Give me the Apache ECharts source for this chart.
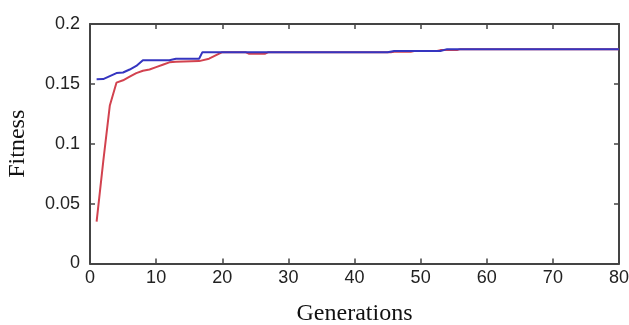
<!DOCTYPE html>
<html><head><meta charset="utf-8">
<script src="https://cdn.jsdelivr.net/npm/echarts@6/dist/echarts.min.js"></script>
<style>html,body{margin:0;padding:0;background:#fff}#c{width:629px;height:325px}</style>
</head><body><div id="c"></div>
<script>
// Red series (generation, fitness)
const redGen = [1, 2, 3, 4, 5, 6, 7, 8, 9, 10, 11, 12, 13, 16.5, 18, 20, 23.5, 24, 26.5, 27, 45.5, 46, 48.5, 49, 52.5, 53, 55.5, 56, 80];
const redFit = [0.035, 0.085, 0.132, 0.151, 0.153, 0.156, 0.159, 0.161, 0.162, 0.164, 0.166, 0.168, 0.1685, 0.169, 0.171, 0.1765, 0.1765, 0.1752, 0.1752, 0.1765, 0.1765, 0.1768, 0.1768, 0.1775, 0.1775, 0.1782, 0.1782, 0.179, 0.179];
// Blue series (generation, fitness)
const blueGen = [1, 2, 3, 4, 5, 6, 7, 8, 12, 13, 16.5, 17, 45, 46, 53, 54, 80];
const blueFit = [0.1538, 0.154, 0.1565, 0.159, 0.1595, 0.162, 0.165, 0.1698, 0.1698, 0.171, 0.171, 0.1765, 0.1765, 0.1775, 0.1775, 0.179, 0.179];
const xTicks = ['0','10','20','30','40','50','60','70','80'];
const yTicks = ['0','0.05','0.1','0.15','0.2'];
const xTitle = 'Generations';
const yTitle = 'Fitness';

const pair = (xs, ys) => xs.map((x, i) => [x, ys[i]]);
const tickFont = {fontFamily: "'Liberation Sans', Arial, sans-serif", fontSize: 18, color: '#222'};
const frame = {show: true, onZero: false, lineStyle: {color: '#444', width: 2}};
const ticksIn = {show: true, inside: true, length: 5, lineStyle: {color: '#444', width: 1.5}};

const chart = echarts.init(document.getElementById('c'), null, {renderer: 'canvas'});
chart.setOption({
  animation: false,
  backgroundColor: '#fff',
  grid: {left: 90, right: 10, top: 24, bottom: 61.5, containLabel: false, outerBoundsMode: 'none'},
  xAxis: [{
    type: 'value', min: 0, max: 80, interval: 10,
    axisLine: frame, axisTick: ticksIn, splitLine: {show: false},
    axisLabel: Object.assign({margin: 6, formatter: v => xTicks[Math.round(v / 10)]}, tickFont),
    name: xTitle, nameLocation: 'middle', nameGap: 38,
    nameTextStyle: {fontFamily: "'Liberation Serif','Times New Roman',serif", fontSize: 24, color: '#111'}
  }, {
    type: 'value', position: 'top', min: 0, max: 80, interval: 10,
    axisLine: frame, axisTick: ticksIn, axisLabel: {show: false}, splitLine: {show: false}
  }],
  yAxis: [{
    type: 'value', min: 0, max: 0.2, interval: 0.05,
    axisLine: frame, axisTick: ticksIn, splitLine: {show: false},
    axisLabel: Object.assign({margin: 10, formatter: v => yTicks[Math.round(v / 0.05)]}, tickFont),
    name: yTitle, nameLocation: 'middle', nameGap: 60,
    nameTextStyle: {fontFamily: "'Liberation Serif','Times New Roman',serif", fontSize: 24, color: '#111'}
  }, {
    type: 'value', position: 'right', min: 0, max: 0.2, interval: 0.05,
    axisLine: frame, axisTick: ticksIn, axisLabel: {show: false}, splitLine: {show: false}
  }],
  series: [{
    type: 'line', data: pair(redGen, redFit), showSymbol: false, z: 2,
    lineStyle: {color: '#d2424f', width: 2}
  }, {
    type: 'line', data: pair(blueGen, blueFit), showSymbol: false, z: 3,
    lineStyle: {color: '#3535c0', width: 2}
  }]
});
</script></body></html>
